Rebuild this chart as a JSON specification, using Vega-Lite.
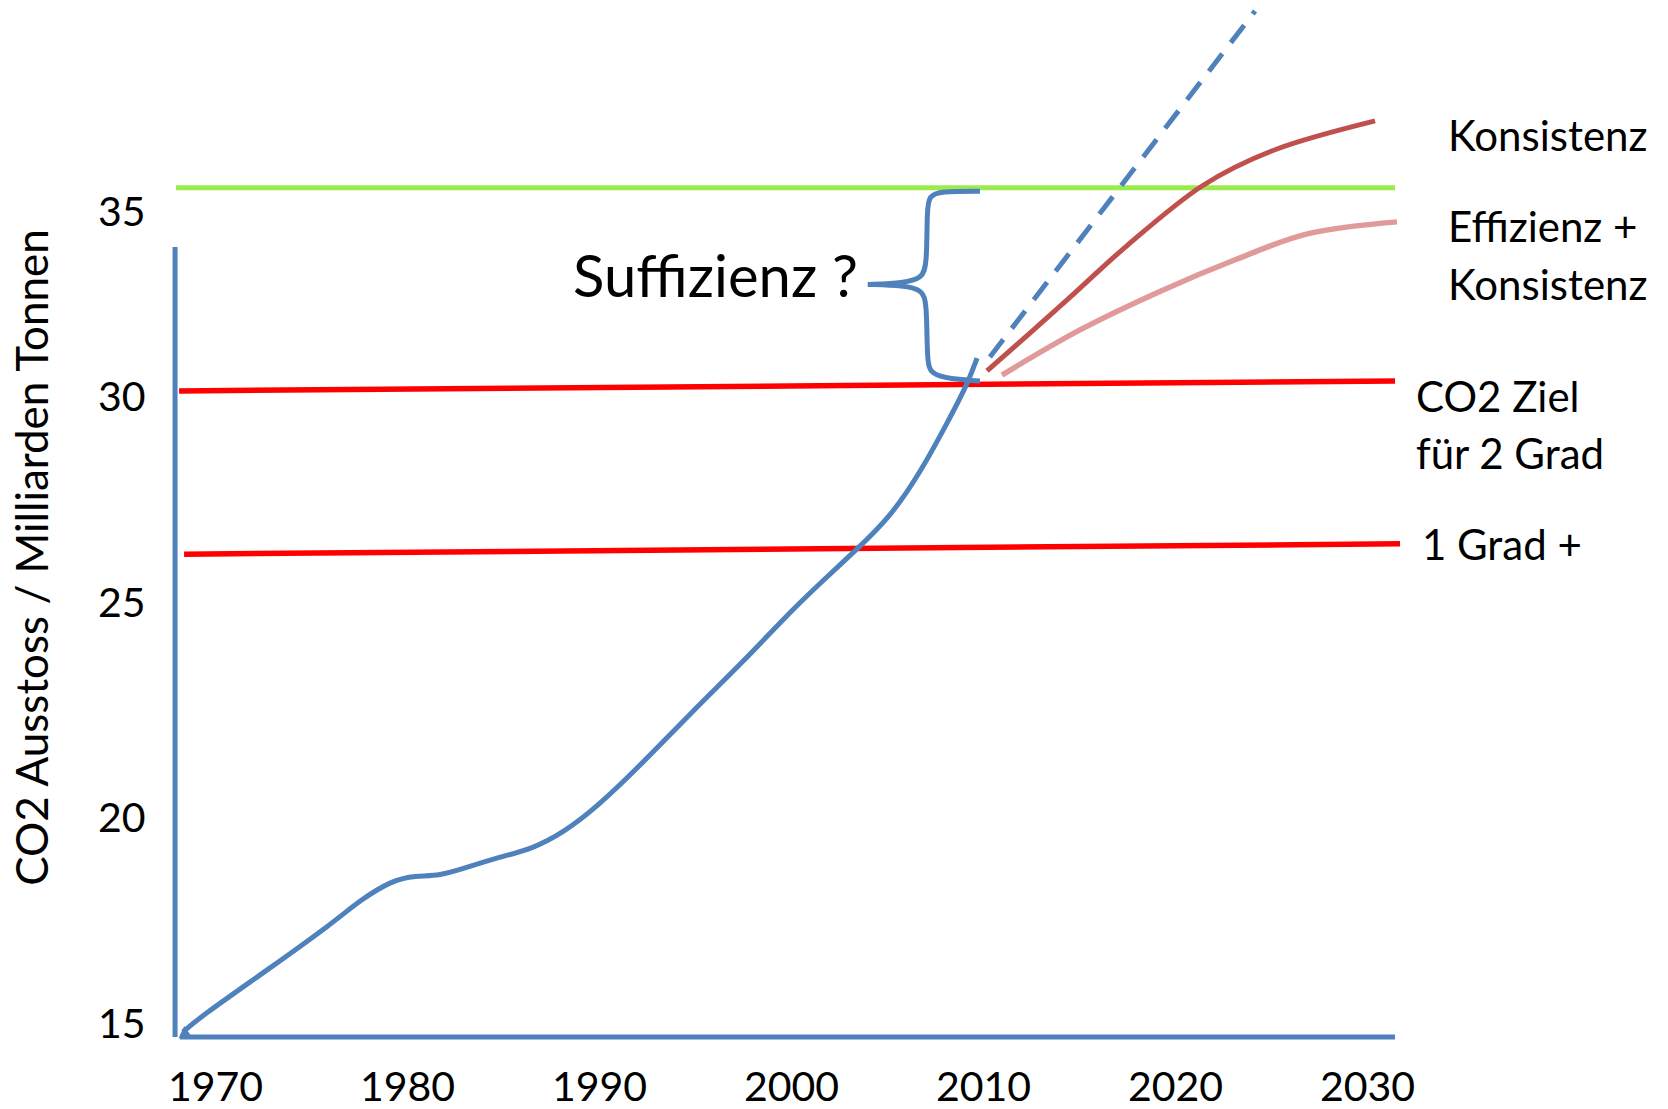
{
  "$schema": "https://vega.github.io/schema/vega-lite/v6.json",
  "width": 1518,
  "height": 1040,
  "autosize": {"type": "none"},
  "padding": {"left": 150, "top": 0, "right": 0, "bottom": 69},
  "background": "white",
  "config": {"view": {"stroke": null}, "font": "Lato"},
  "datasets": {
    "blue": [
      {"year": 1968.33, "value": 14.83}, {"year": 1969.22, "value": 15.19}, {"year": 1972.71, "value": 16.33},
      {"year": 1976.15, "value": 17.48}, {"year": 1977.55, "value": 18.03}, {"year": 1979.27, "value": 18.52},
      {"year": 1980.42, "value": 18.62}, {"year": 1981.72, "value": 18.62}, {"year": 1983.02, "value": 18.81},
      {"year": 1984.84, "value": 19.08}, {"year": 1986.51, "value": 19.27}, {"year": 1988.18, "value": 19.68},
      {"year": 1989.84, "value": 20.26}, {"year": 1992.03, "value": 21.19}, {"year": 1994.79, "value": 22.47},
      {"year": 1997.6, "value": 23.7}, {"year": 1999.79, "value": 24.74}, {"year": 2001.46, "value": 25.48},
      {"year": 2003.44, "value": 26.33}, {"year": 2005.16, "value": 27.11}, {"year": 2006.72, "value": 28.18},
      {"year": 2008.13, "value": 29.39}, {"year": 2009.17, "value": 30.35}, {"year": 2009.69, "value": 31.08}
    ],
    "dashed": [{"year": 2010.36, "value": 31.11}, {"year": 2024.17, "value": 40.46}],
    "konsistenz": [
      {"year": 2010.21, "value": 30.73}, {"year": 2014.38, "value": 32.65}, {"year": 2017.55, "value": 34.14},
      {"year": 2021.41, "value": 35.73}, {"year": 2025.31, "value": 36.73}, {"year": 2030.42, "value": 37.49}
    ],
    "effizienz": [
      {"year": 2010.99, "value": 30.62}, {"year": 2015.05, "value": 31.84}, {"year": 2019.3, "value": 32.9},
      {"year": 2023.2, "value": 33.75}, {"year": 2027.0, "value": 34.45}, {"year": 2031.56, "value": 34.76}
    ],
    "green": [{"year": 1967.97, "value": 35.68}, {"year": 2031.46, "value": 35.68}],
    "red1": [{"year": 1968.13, "value": 30.19}, {"year": 2031.46, "value": 30.46}],
    "red2": [{"year": 1968.39, "value": 26.21}, {"year": 2031.72, "value": 26.46}],
    "axisV": [{"year": 1967.92, "value": 14.71}, {"year": 1967.92, "value": 34.08}],
    "axisH": [{"year": 1968.18, "value": 14.71}, {"year": 2031.46, "value": 14.71}],
    "arrow": [{"year": 1968.35, "value": 14.76}],
    "brace": [
      {"i": 1, "year": 2009.84, "value": 35.59}, {"i": 2, "year": 2007.76, "value": 35.59},
      {"i": 3, "year": 2007.19, "value": 35.46}, {"i": 4, "year": 2007.08, "value": 35.08},
      {"i": 5, "year": 2007.08, "value": 33.59}, {"i": 6, "year": 2006.82, "value": 33.24},
      {"i": 7, "year": 2005.9, "value": 33.11}, {"i": 8, "year": 2004.0, "value": 33.07},
      {"i": 9, "year": 2004.0, "value": 33.07}, {"i": 10, "year": 2004.0, "value": 33.07},
      {"i": 11, "year": 2005.9, "value": 33.04}, {"i": 12, "year": 2006.82, "value": 32.92},
      {"i": 13, "year": 2007.08, "value": 32.59}, {"i": 14, "year": 2007.08, "value": 30.97},
      {"i": 15, "year": 2007.29, "value": 30.65}, {"i": 16, "year": 2008.28, "value": 30.51},
      {"i": 17, "year": 2009.84, "value": 30.46}
    ],
    "labels": [
      {"label": "Konsistenz", "year": 2034.22, "value": 36.68},
      {"label": "Effizienz +", "year": 2034.22, "value": 34.22},
      {"label": "Konsistenz", "year": 2034.22, "value": 32.65},
      {"label": "CO2 Ziel", "year": 2032.55, "value": 29.66},
      {"label": "für 2 Grad", "year": 2032.55, "value": 28.28},
      {"label": "1 Grad +", "year": 2032.86, "value": 26.07}
    ],
    "suff": [{"label": "Suffizienz ?", "year": 1988.65, "value": 32.73}]
  },
  "encoding": {
    "x": {
      "field": "year", "type": "quantitative",
      "scale": {"domain": [1970, 2030], "range": [65, 1217], "nice": false, "zero": false},
      "axis": {
        "values": [1970, 1980, 1990, 2000, 2010, 2020, 2030], "format": "d", "title": null,
        "domain": false, "grid": false, "ticks": false, "tickSize": 0,
        "labelFontSize": 41, "labelFont": "Lato", "labelColor": "black",
        "labelPadding": 48, "labelBaseline": "middle", "labelFlush": false, "labelOverlap": false
      }
    },
    "y": {
      "field": "value", "type": "quantitative",
      "scale": {"domain": [15, 20, 25, 30, 35], "range": [1025, 819, 604, 398, 213], "nice": false, "zero": false},
      "axis": {
        "values": [15, 20, 25, 30, 35], "title": "CO2 Ausstoss / Milliarden Tonnen",
        "titleFontSize": 44, "titleFont": "Lato", "titleFontWeight": "normal", "titleColor": "black",
        "titleAngle": 270, "titleX": -116, "titleY": 557, "titleAlign": "center", "titleBaseline": "middle",
        "domain": false, "grid": false, "ticks": false, "tickSize": 0,
        "labelFontSize": 41, "labelFont": "Lato", "labelColor": "black", "labelPadding": 5,
        "labelAlign": "right", "labelBaseline": "middle", "labelFlush": false, "labelOverlap": false
      }
    }
  },
  "layer": [
    {"data": {"name": "green"}, "mark": {"type": "line", "stroke": "#9CEB4E", "strokeWidth": 5, "clip": false}},
    {"data": {"name": "red1"}, "mark": {"type": "line", "stroke": "#FF0000", "strokeWidth": 5.5, "clip": false}},
    {"data": {"name": "red2"}, "mark": {"type": "line", "stroke": "#FF0000", "strokeWidth": 5.5, "clip": false}},
    {"data": {"name": "axisV"}, "mark": {"type": "line", "stroke": "#4F81BD", "strokeWidth": 5, "clip": false}},
    {"data": {"name": "axisH"}, "mark": {"type": "line", "stroke": "#4F81BD", "strokeWidth": 5, "clip": false}},
    {"data": {"name": "arrow"}, "mark": {"type": "point", "shape": "triangle-left", "filled": true, "fill": "#4F81BD", "size": 180, "angle": 325, "opacity": 1, "clip": false}},
    {"data": {"name": "blue"}, "mark": {"type": "line", "stroke": "#4F81BD", "strokeWidth": 5, "interpolate": "basis", "clip": false}},
    {"data": {"name": "dashed"}, "mark": {"type": "line", "stroke": "#4F81BD", "strokeWidth": 5, "strokeDash": [22, 14], "clip": false}},
    {"data": {"name": "konsistenz"}, "mark": {"type": "line", "stroke": "#C0504D", "strokeWidth": 5, "interpolate": "cardinal", "clip": false}},
    {"data": {"name": "effizienz"}, "mark": {"type": "line", "stroke": "#E09A99", "strokeWidth": 5.5, "interpolate": "cardinal", "clip": false}},
    {"data": {"name": "brace"}, "mark": {"type": "line", "stroke": "#4F81BD", "strokeWidth": 5, "interpolate": "basis", "clip": false},
     "encoding": {"order": {"field": "i", "type": "quantitative"}}},
    {"data": {"name": "labels"}, "mark": {"type": "text", "align": "left", "baseline": "alphabetic", "fontSize": 42, "font": "Lato", "color": "black", "clip": false},
     "encoding": {"text": {"field": "label", "type": "nominal"}}},
    {"data": {"name": "suff"}, "mark": {"type": "text", "align": "left", "baseline": "alphabetic", "fontSize": 58, "font": "Lato", "color": "black", "clip": false},
     "encoding": {"text": {"field": "label", "type": "nominal"}}}
  ]
}
